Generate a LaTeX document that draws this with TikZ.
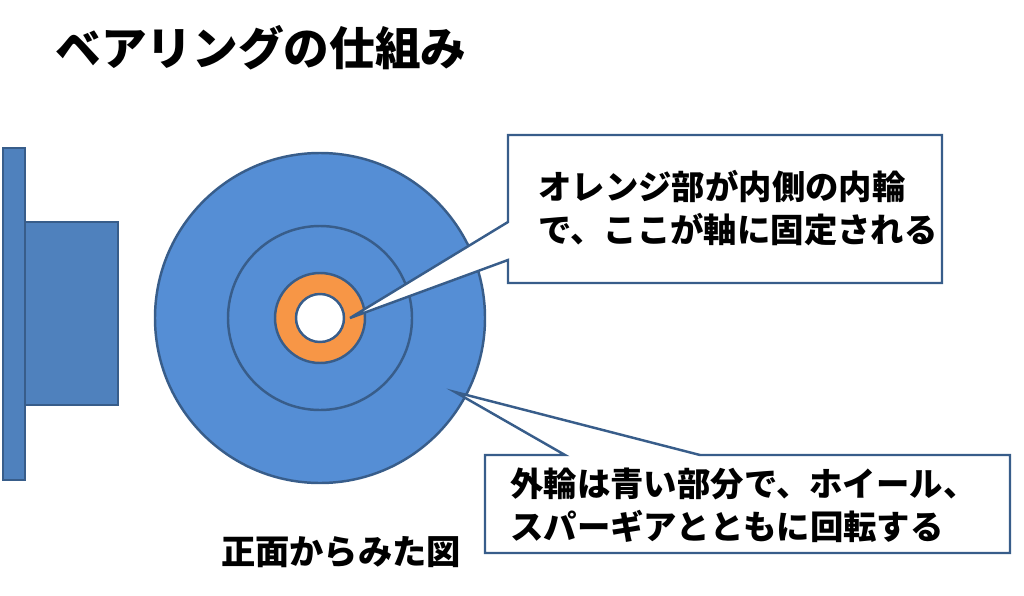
\documentclass[tikz,border=0pt]{standalone}
\usepackage{fontspec}
\setmainfont{Noto Sans CJK JP}
\begin{document}
\begin{tikzpicture}[x=0.02cm,y=-0.02cm,
  blk/.style={fill=blue1,draw=edge,line width=1.2pt},
  call/.style={fill=white,draw=edge,line width=1.4pt,line join=miter},
  txt/.style={font=\fontsize{19}{24.5}\selectfont\bfseries,align=left,inner sep=0pt}]
\definecolor{blue1}{HTML}{4F81BD}
\definecolor{blue2}{HTML}{558ED5}
\definecolor{edge}{HTML}{385D8A}
\definecolor{orng}{HTML}{F79646}
\useasboundingbox (0,0) rectangle (1024,595);
\node[anchor=west,font=\fontsize{26}{30}\selectfont\bfseries,inner sep=0pt] (title) at (55,48) {ベアリングの仕組み};
\draw[blk] (3,148) rectangle (25,480);
\draw[blk] (25,222) rectangle (118,405);
\draw[fill=blue2,draw=edge,line width=1.4pt] (320,318) circle (165);
\draw[fill=blue2,draw=edge,line width=1.4pt] (320,318) circle (92);
\draw[fill=orng,draw=edge,line width=1.4pt] (320,318) circle (45);
\draw[fill=white,draw=edge,line width=1.4pt] (320,318) circle (24);
\coordinate (p1) at (350,318);
\coordinate (p2) at (455,392);
\draw[call] (508,135) -- (942,135) -- (942,283) -- (508,283) -- (508,260) -- (p1) -- (508,222) -- cycle;
\draw[call] (485,455) -- (565,455) -- (p2) -- (700,455) -- (1010,455) -- (1010,553) -- (485,553) -- cycle;
\node[txt,anchor=north west] (t1) at (538,170) {オレンジ部が内側の内輪\\で、ここが軸に固定される};
\node[txt,anchor=north west] (t2) at (510,468) {外輪は青い部分で、ホイール、\\スパーギアとともに回転する};
\node[font=\fontsize{19.5}{22}\selectfont\bfseries,inner sep=0pt] (cap) at (341,552) {正面からみた図};
\end{tikzpicture}
\end{document}
